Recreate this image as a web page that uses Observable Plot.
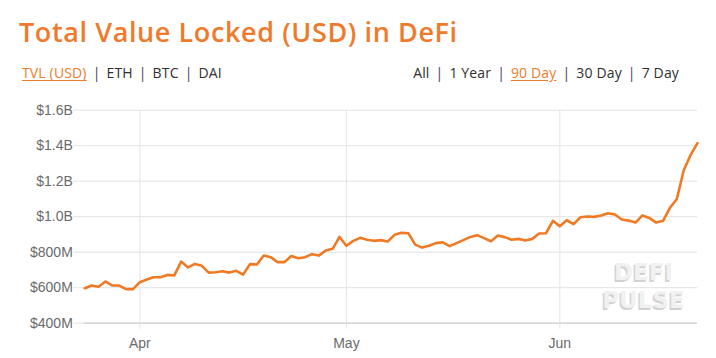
<!DOCTYPE html>
<html>
<head>
<meta charset="utf-8">
<script src="https://cdn.jsdelivr.net/npm/d3@7"></script>
<script src="https://cdn.jsdelivr.net/npm/@observablehq/plot@0.6"></script>
<style>
  body { margin:0; width:716px; height:358px; overflow:hidden; background:#fff; position:relative; }
  #title { position:absolute; left:19px; top:15px; font-family:"Open Sans", sans-serif; font-weight:600; font-size:27px; letter-spacing:0.6px; line-height:34px; color:#f07a2b; white-space:nowrap; }
  .row { position:absolute; top:64px; font-family:"Open Sans", sans-serif; font-size:14px; letter-spacing:0.15px; line-height:18px; color:#2f2f2f; white-space:nowrap; }
  .row .sel { color:#f07a2b; text-decoration:underline; text-underline-offset:2px; }
  .row .sep { color:#4a3a66; margin:0 6px; }
  #left { left:22px; }
  #right { right:37px; }
  #chart { position:absolute; left:0; top:95px; }
</style>
</head>
<body>
<div id="title">Total Value Locked (USD) in DeFi</div>
<div class="row" id="left"></div>
<div class="row" id="right"></div>
<div id="chart"></div>
<script>
// Data (USD millions), one value per day from 2020-03-24 to 2020-06-21
const startDate = "2020-03-24";
const endDate = "2020-06-21";
const tvlMillions = [
  597, 612, 605, 635, 612, 612, 592, 592,
  631, 646, 659, 659, 672, 669, 747, 714, 734, 723,
  685, 687, 693, 685, 695, 674, 733, 731, 781, 772,
  744, 744, 779, 766, 772, 789, 781, 809, 819, 886,
  836,
  864, 881, 870, 864, 868, 860, 898, 909, 907, 843,
  826, 836, 851, 856, 834, 851, 868, 886, 896, 879,
  862, 894, 885, 870, 875, 866, 875, 905, 907, 977,
  946, 980, 958, 997, 1001, 999, 1007, 1020, 1012, 984,
  978, 967, 1007, 993, 967, 977, 1050, 1100, 1262, 1348, 1414
];
const yTicks = [400, 600, 800, 1000, 1200, 1400, 1600];
const monthTicks = ["2020-04-01", "2020-05-01", "2020-06-01"];
const monthLabels = ["Apr", "May", "Jun"];
const leftOptions = ["TVL (USD)", "ETH", "BTC", "DAI"];
const leftSelected = "TVL (USD)";
const rightOptions = ["All", "1 Year", "90 Day", "30 Day", "7 Day"];
const rightSelected = "90 Day";
const watermark = "DEFI\nPULSE";

function fillRow(id, items, selected) {
  const el = document.getElementById(id);
  el.innerHTML = items.map(t => `<span class="${t === selected ? "sel" : ""}">${t}</span>`).join('<span class="sep">|</span>');
}
fillRow("left", leftOptions, leftSelected);
fillRow("right", rightOptions, rightSelected);

const days = d3.utcDay.range(new Date(startDate), d3.utcDay.offset(new Date(endDate), 1));
const data = days.map((d, i) => ({date: d, value: tvlMillions[i]}));
const mTicks = monthTicks.map(s => new Date(s));
const fmtY = v => v >= 1000 ? `$${(v / 1000).toFixed(1)}B` : `$${v}M`;

const chart = Plot.plot({
  width: 716,
  height: 263,
  marginTop: 14.7,
  marginBottom: 35.3,
  marginLeft: 84.3,
  marginRight: 19,
  style: {fontFamily: "'Liberation Sans', Arial, sans-serif", background: "transparent"},
  x: {type: "utc", domain: [new Date(startDate), new Date(endDate)]},
  y: {domain: [400, 1600]},
  marks: [
    Plot.gridY(yTicks, {stroke: "#e3e3e3", strokeOpacity: 1}),
    Plot.gridX(mTicks, {stroke: "#e3e3e3", strokeOpacity: 1}),
    Plot.ruleY([400], {stroke: "#cfcfcf", strokeWidth: 1.2}),
    Plot.axisY(yTicks, {tickSize: 11, tickPadding: 1, stroke: "#e3e3e3", fill: "#6a6a6a", fontSize: 14, tickFormat: fmtY, label: null}),
    Plot.axisX(mTicks, {tickSize: 6, tickPadding: 9, stroke: "#e3e3e3", fill: "#6a6a6a", fontSize: 14, tickFormat: (d, i) => monthLabels[i], label: null}),
    Plot.text([watermark], {frameAnchor: "bottom-right", dx: -55.5, dy: -13.5, textAnchor: "middle", lineAnchor: "bottom", lineHeight: 1.22, fontSize: 23, fontWeight: "bold", fontFamily: "DejaVu Sans", fill: "#d2d2d2"}),
    Plot.text([watermark], {frameAnchor: "bottom-right", dx: -54, dy: -15, textAnchor: "middle", lineAnchor: "bottom", lineHeight: 1.22, fontSize: 23, fontWeight: "bold", fontFamily: "DejaVu Sans", fill: "#f1f1f1"}),
    Plot.line(data, {x: "date", y: "value", stroke: "#f07a24", strokeWidth: 2.6, curve: "linear"})
  ]
});
document.getElementById("chart").appendChild(chart);
</script>
</body>
</html>
